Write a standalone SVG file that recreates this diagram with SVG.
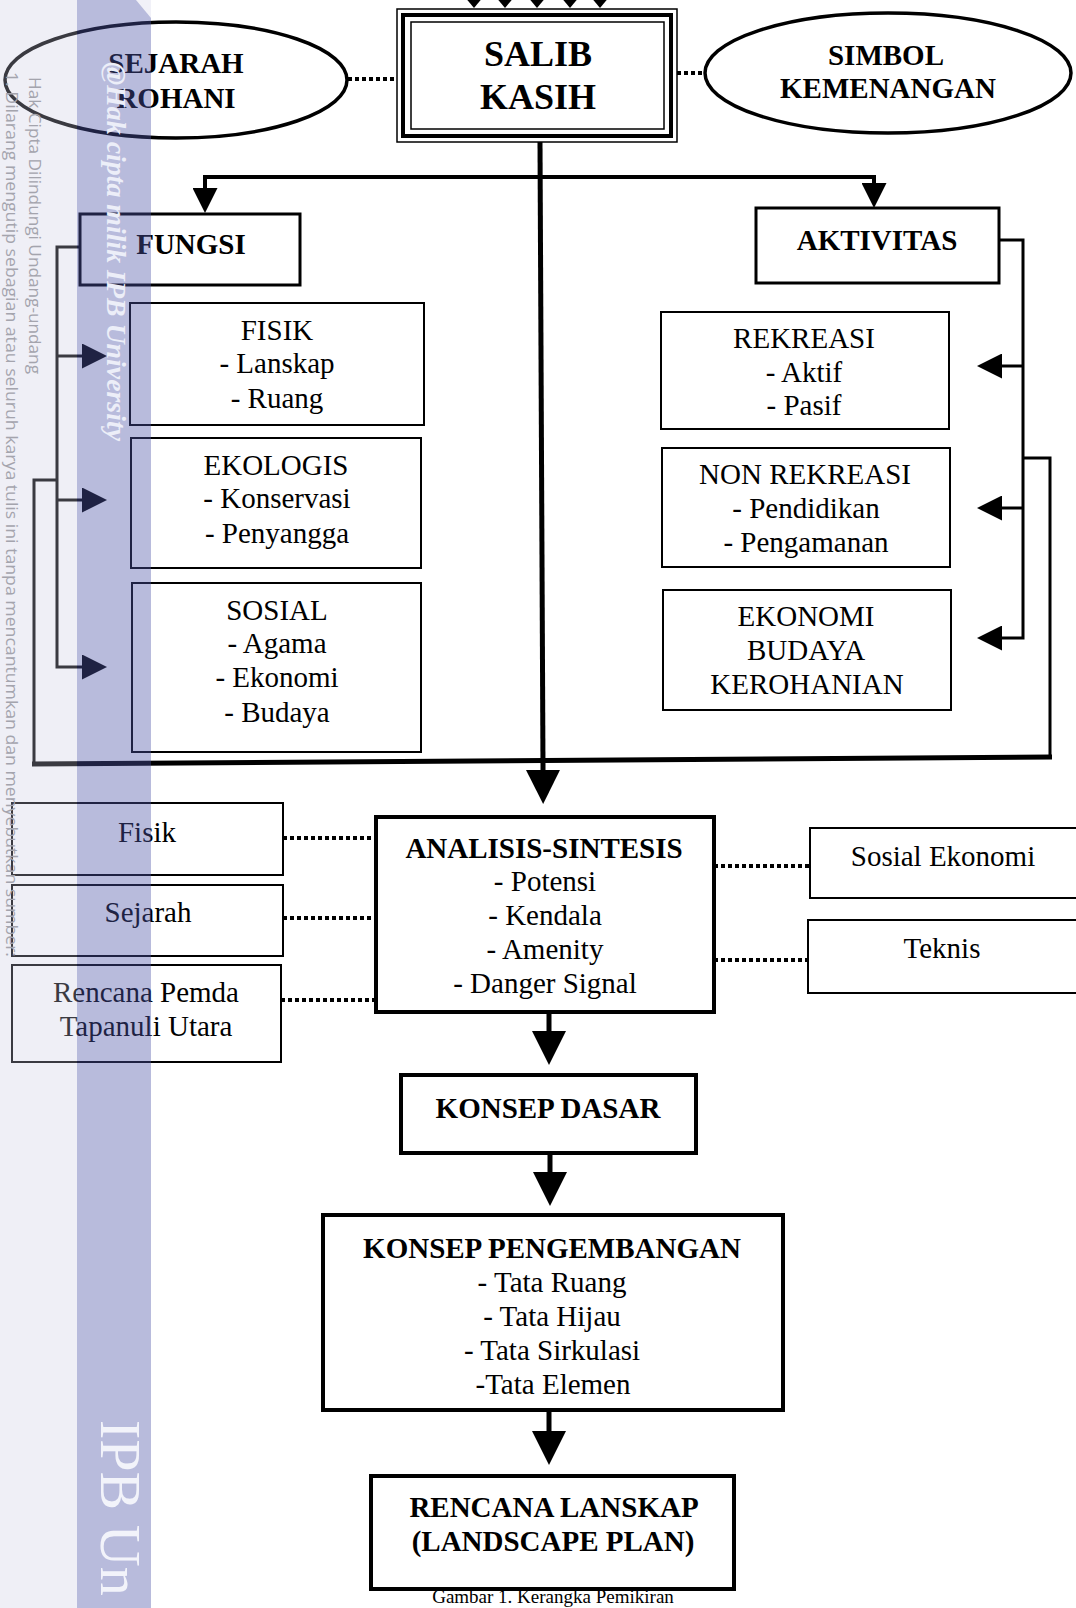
<svg xmlns="http://www.w3.org/2000/svg" width="1076" height="1608" viewBox="0 0 1076 1608">
<style>
.box{fill:#fff;stroke:#000;stroke-width:2}
.m{stroke-width:3}
.k{stroke-width:4}
.ell{fill:#fff;stroke:#000;stroke-width:3.5}
.t{font-family:"Liberation Serif","Times New Roman",serif;font-size:29px;fill:#000;text-anchor:middle}
.b{font-weight:bold}
.ln{fill:none;stroke:#000;stroke-width:3}
.th{stroke-width:4}
.tk{stroke-width:5}
.dot{fill:none;stroke:#000;stroke-width:4;stroke-dasharray:4 3}
.wm{font-family:"Open Sans","DejaVu Sans",sans-serif;font-size:16px;fill:#a4a4ad}
</style>
<defs>
<marker id="ahL" markerUnits="userSpaceOnUse" markerWidth="34" markerHeight="34" viewBox="0 0 10 10" refX="0" refY="5" orient="auto" preserveAspectRatio="none"><path d="M0,0L10,5L0,10z" fill="#000"/></marker>
<marker id="ahM" markerUnits="userSpaceOnUse" markerWidth="25" markerHeight="25" viewBox="0 0 10 10" refX="0" refY="5" orient="auto" preserveAspectRatio="none"><path d="M0,0L10,5L0,10z" fill="#000"/></marker>
<marker id="ahS" markerUnits="userSpaceOnUse" markerWidth="9" markerHeight="15" viewBox="0 0 10 10" refX="0" refY="5" orient="auto" preserveAspectRatio="none"><path d="M0,0L10,5L0,10z" fill="#000"/></marker>
</defs>
<rect x="0" y="0" width="1076" height="1608" fill="#fff"/>

<g id="connectors">
<path class="ln tk" d="M540,142 L543,770" marker-end="url(#ahL)"/>
<path class="ln th" d="M540,177 H205 V188" marker-end="url(#ahM)"/>
<path class="ln th" d="M540,177 H874 V183" marker-end="url(#ahM)"/>
<path class="dot" d="M348,79 H397"/>
<path class="dot" d="M677,73 H705"/>
<path class="ln" d="M80,247 H57 V667 H82" marker-end="url(#ahM)"/>
<path class="ln" d="M57,356 H82" marker-end="url(#ahM)"/>
<path class="ln" d="M57,500 H82" marker-end="url(#ahM)"/>
<path class="ln" d="M998,240 H1023 V638 H1002" marker-end="url(#ahM)"/>
<path class="ln" d="M1023,366 H1002" marker-end="url(#ahM)"/>
<path class="ln" d="M1023,508 H1002" marker-end="url(#ahM)"/>
<path class="ln" d="M57,480 H34 V765"/>
<path class="ln tk" d="M32,764 L1052,757"/>
<path class="ln" d="M1050,759 V458 H1023"/>
<path class="dot" d="M283,838 H376"/>
<path class="dot" d="M283,918 H376"/>
<path class="dot" d="M281,1000 H376"/>
<path class="dot" d="M714,866 H810"/>
<path class="dot" d="M714,960 H808"/>
<path class="ln tk" d="M549,1012 V1031" marker-end="url(#ahL)"/>
<path class="ln tk" d="M550,1153 V1172" marker-end="url(#ahL)"/>
<path class="ln tk" d="M549,1410 V1431" marker-end="url(#ahL)"/>
<path class="ln" d="M474,-20 V-1" marker-end="url(#ahS)"/>
<path class="ln" d="M505,-20 V-1" marker-end="url(#ahS)"/>
<path class="ln" d="M537,-20 V-1" marker-end="url(#ahS)"/>
<path class="ln" d="M570,-20 V-1" marker-end="url(#ahS)"/>
<path class="ln" d="M600,-20 V-1" marker-end="url(#ahS)"/>
</g>

<g id="sejarah-rohani">
<ellipse class="ell" cx="176" cy="80" rx="171" ry="58"/>
<text class="t b" x="176" y="73">SEJARAH</text>
<text class="t b" x="176" y="108">ROHANI</text>
</g>
<g id="salib-kasih">
<rect x="397" y="9" width="280" height="133" fill="#fff" stroke="#000" stroke-width="1.5"/>
<rect x="403" y="15" width="268" height="121" fill="none" stroke="#000" stroke-width="4"/>
<rect x="411" y="22" width="253" height="107" fill="none" stroke="#000" stroke-width="1.5"/>
<text class="t b" x="538" y="66" style="font-size:36px">SALIB</text>
<text class="t b" x="538" y="109" style="font-size:36px">KASIH</text>
</g>
<g id="simbol-kemenangan">
<ellipse class="ell" cx="888" cy="73" rx="183" ry="60"/>
<text class="t b" x="886" y="65">SIMBOL</text>
<text class="t b" x="888" y="98">KEMENANGAN</text>
</g>
<g id="fungsi">
<rect class="box m" x="80" y="214" width="220" height="71"/>
<text class="t b" x="191" y="254">FUNGSI</text>
</g>
<g id="aktivitas">
<rect class="box m" x="756" y="208" width="243" height="75"/>
<text class="t b" x="877" y="250">AKTIVITAS</text>
</g>
<g id="fisik">
<rect class="box" x="130" y="303" width="294" height="122"/>
<text class="t" x="277" y="340">FISIK</text>
<text class="t" x="277" y="373">- Lanskap</text>
<text class="t" x="277" y="408">- Ruang</text>
</g>
<g id="ekologis">
<rect class="box" x="131" y="438" width="290" height="130"/>
<text class="t" x="276" y="475">EKOLOGIS</text>
<text class="t" x="277" y="508">- Konservasi</text>
<text class="t" x="277" y="543">- Penyangga</text>
</g>
<g id="sosial">
<rect class="box" x="132" y="583" width="289" height="169"/>
<text class="t" x="277" y="620">SOSIAL</text>
<text class="t" x="277" y="653">- Agama</text>
<text class="t" x="277" y="687">- Ekonomi</text>
<text class="t" x="277" y="722">- Budaya</text>
</g>
<g id="rekreasi">
<rect class="box" x="661" y="312" width="288" height="117"/>
<text class="t" x="804" y="348">REKREASI</text>
<text class="t" x="804" y="382">- Aktif</text>
<text class="t" x="804" y="415">- Pasif</text>
</g>
<g id="non-rekreasi">
<rect class="box" x="662" y="448" width="288" height="119"/>
<text class="t" x="805" y="484">NON REKREASI</text>
<text class="t" x="806" y="518">- Pendidikan</text>
<text class="t" x="806" y="552">- Pengamanan</text>
</g>
<g id="ekonomi-budaya">
<rect class="box" x="663" y="590" width="288" height="120"/>
<text class="t" x="806" y="626">EKONOMI</text>
<text class="t" x="806" y="660">BUDAYA</text>
<text class="t" x="807" y="694">KEROHANIAN</text>
</g>
<g id="in-fisik">
<rect class="box" x="12" y="803" width="271" height="72"/>
<text class="t" x="147" y="842">Fisik</text>
</g>
<g id="in-sejarah">
<rect class="box" x="12" y="885" width="271" height="71"/>
<text class="t" x="148" y="922">Sejarah</text>
</g>
<g id="in-rencana">
<rect class="box" x="12" y="965" width="269" height="97"/>
<text class="t" x="146" y="1002">Rencana Pemda</text>
<text class="t" x="146" y="1036">Tapanuli Utara</text>
</g>
<g id="analisis-sintesis">
<rect class="box k" x="376" y="817" width="338" height="195"/>
<text class="t b" x="544" y="858">ANALISIS-SINTESIS</text>
<text class="t" x="545" y="891">- Potensi</text>
<text class="t" x="545" y="925">- Kendala</text>
<text class="t" x="545" y="959">- Amenity</text>
<text class="t" x="545" y="993">- Danger Signal</text>
</g>
<g id="in-sosial-ekonomi">
<rect class="box" x="810" y="828" width="280" height="70"/>
<text class="t" x="943" y="866">Sosial Ekonomi</text>
</g>
<g id="in-teknis">
<rect class="box" x="808" y="920" width="282" height="73"/>
<text class="t" x="942" y="958">Teknis</text>
</g>
<g id="konsep-dasar">
<rect class="box k" x="401" y="1075" width="295" height="78"/>
<text class="t b" x="548" y="1118">KONSEP DASAR</text>
</g>
<g id="konsep-pengembangan">
<rect class="box k" x="323" y="1215" width="460" height="195"/>
<text class="t b" x="552" y="1258">KONSEP PENGEMBANGAN</text>
<text class="t" x="552" y="1292">- Tata Ruang</text>
<text class="t" x="552" y="1326">- Tata Hijau</text>
<text class="t" x="552" y="1360">- Tata Sirkulasi</text>
<text class="t" x="553" y="1394">-Tata Elemen</text>
</g>
<g id="rencana-lanskap">
<rect class="box k" x="371" y="1476" width="363" height="113"/>
<text class="t b" x="554" y="1517">RENCANA LANSKAP</text>
<text class="t b" x="553" y="1551">(LANDSCAPE PLAN)</text>
</g>
<text class="t" x="553" y="1603" style="font-size:19px">Gambar 1. Kerangka Pemikiran</text>

<g id="watermark">
<rect x="0" y="0" width="77" height="1608" fill="rgb(200,200,224)" fill-opacity="0.29"/>
<rect x="77" y="0" width="74" height="1608" fill="rgb(77,86,168)" fill-opacity="0.4"/>
<polygon points="136,0 151,0 151,18" fill="#fff" fill-opacity="0.8"/>
<text class="wm" transform="translate(29,77) rotate(90)" textLength="297" lengthAdjust="spacingAndGlyphs">Hak Cipta Dilindungi Undang-undang</text>
<text class="wm" transform="translate(6,72) rotate(90)" textLength="885" lengthAdjust="spacingAndGlyphs">1. Dilarang mengutip sebagian atau seluruh karya tulis ini tanpa mencantumkan dan menyebutkan sumber:</text>
<text transform="translate(107,62) rotate(90)" style="font-family:'Liberation Serif',serif;font-size:27px;font-style:italic;font-weight:bold;fill:#eceef8" textLength="379" lengthAdjust="spacingAndGlyphs">@Hak cipta milik IPB University</text>
<text transform="translate(101,1420) rotate(90)" style="font-family:'Liberation Serif',serif;font-size:58px;fill:#f2f3fa">IPB Un</text>
</g>
</svg>
